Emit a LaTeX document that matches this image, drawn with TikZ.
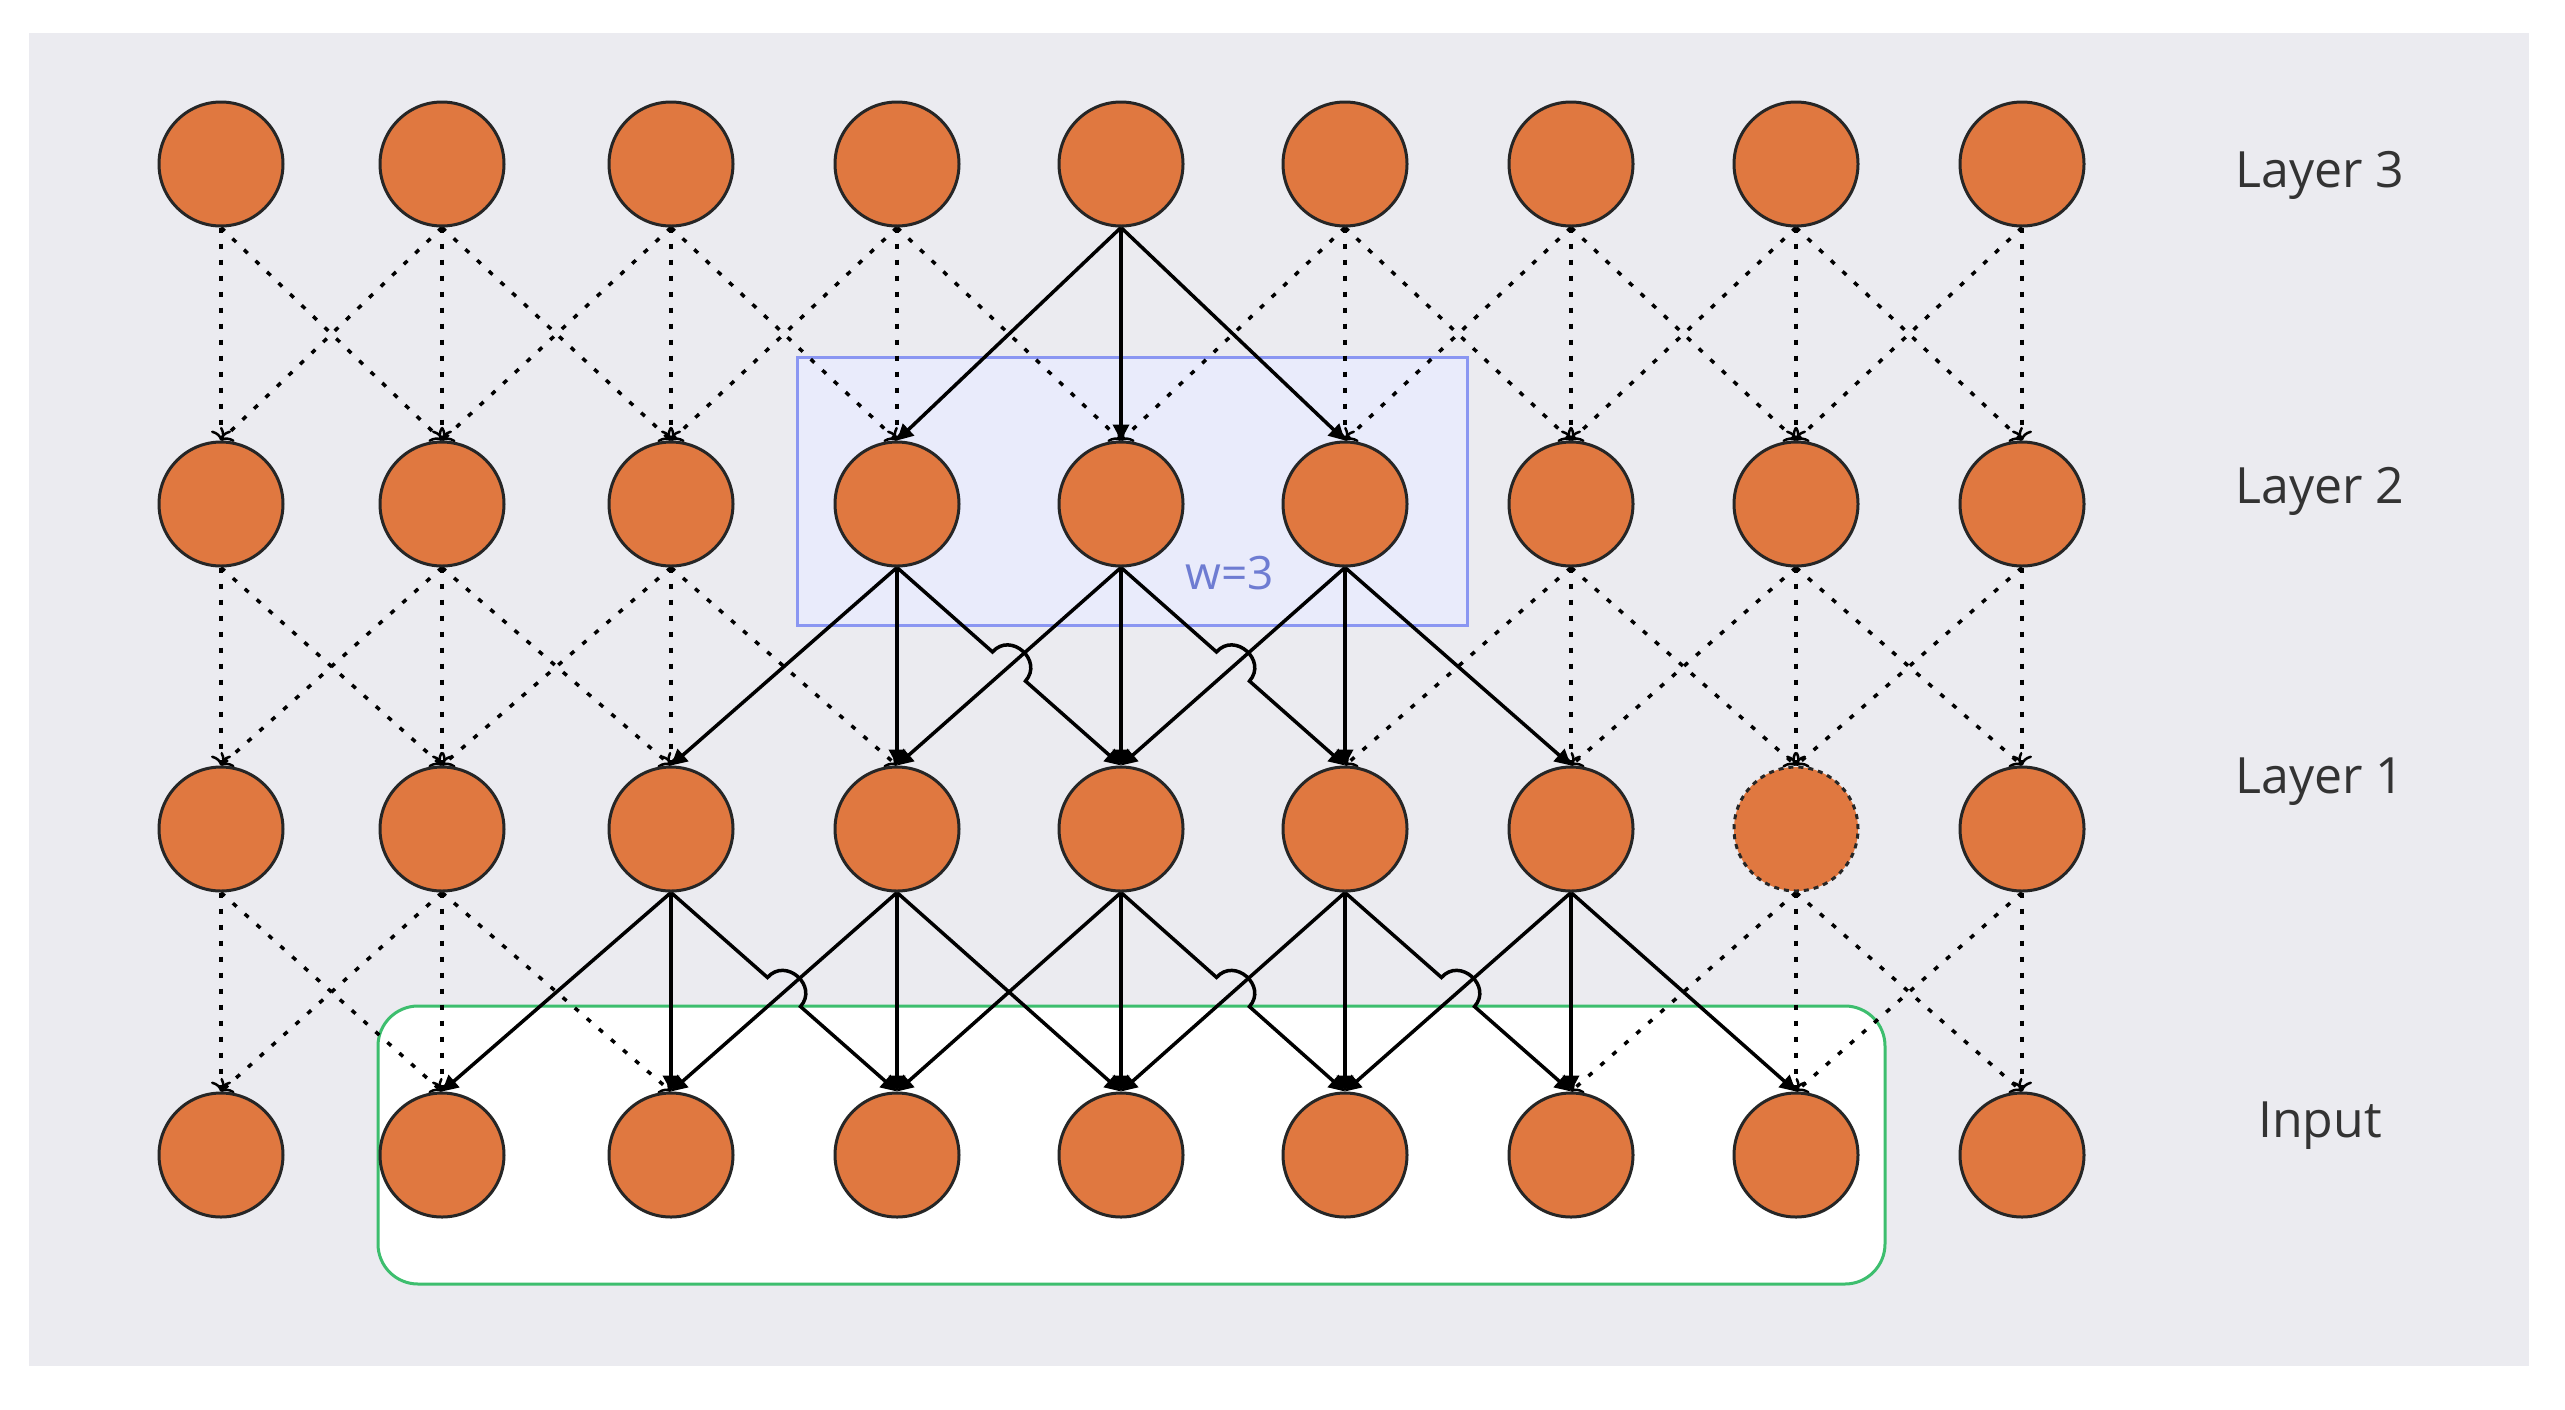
\documentclass[tikz,border=0pt]{standalone}
\usepackage{fontspec}
\setmainfont{Open Sans}
\usetikzlibrary{arrows.meta,calc}
\definecolor{orng}{HTML}{E07840}
\definecolor{bgc}{HTML}{EBEBF0}
\definecolor{bluef}{HTML}{E9EBFB}
\definecolor{blued}{HTML}{8A96F2}
\definecolor{bluet}{HTML}{6E7CD2}
\definecolor{grn}{HTML}{3DBE6E}
\definecolor{txt}{HTML}{333333}
\pgfdeclarelayer{bglayer}
\pgfdeclarelayer{edgelayer}
\pgfsetlayers{bglayer,edgelayer,main}
\begin{document}
\begin{tikzpicture}[x=1pt,y=-1pt,
  neuron/.style={circle,draw=black!85,line width=3pt,fill=orng,minimum size=124pt,inner sep=0pt},
  ghost/.style={neuron,dash pattern=on 5pt off 5pt},
  sol/.style={black,line width=3.5pt,-{Triangle[length=16pt,width=16pt]}},
  dsh/.style={black,line width=3.5pt,dash pattern=on 5pt off 11pt,-{To[length=10pt,width=20pt,line width=2.5pt]}},
  lbl/.style={font=\fontsize{50}{60}\selectfont,text=txt}]
\useasboundingbox (0,0) rectangle (2565,1409);
\begin{pgfonlayer}{bglayer}
\fill[white] (0,0) rectangle (2565,1409);
\fill[bgc] (29,33) rectangle (2529,1366);
\draw[blued,line width=3pt,fill=bluef] (797,357) rectangle (1467,625);
\draw[grn,line width=3pt,fill=white,rounded corners=40pt] (378,1006) rectangle (1885,1284);
\end{pgfonlayer}
\def\colx{{221,442,671,897,1121,1345,1571,1796,2022}}
\foreach \r/\y in {3/164,2/504,1/829,0/1155}{
  \foreach \c in {0,...,8}{
    \pgfmathsetmacro\xx{\colx[\c]}
    \ifnum\r=1 \ifnum\c=7
      \node[ghost] (n-\r-\c) at (\xx,\y) {};
    \else
      \node[neuron] (n-\r-\c) at (\xx,\y) {};
    \fi\else
      \node[neuron] (n-\r-\c) at (\xx,\y) {};
    \fi
  }
}
\begin{pgfonlayer}{edgelayer}
\foreach \r in {1,2,3}{
  \foreach \c in {0,...,8}{
    \foreach \dc in {-1,0,1}{
      \pgfmathtruncatemacro\cc{\c+\dc}
      \pgfmathtruncatemacro\rr{\r-1}
      \pgfmathtruncatemacro\solid{(\r==3 && \c==4) || (\r==2 && \c>2 && \c<6) || (\r==1 && \c>1 && \c<7)}
      \pgfmathtruncatemacro\hop{\dc==1 && ((\r==2 && (\c==3 || \c==4)) || (\r==1 && (\c==2 || \c==4 || \c==5)))}
      \ifnum\cc>-1 \ifnum\cc<9
        \ifnum\solid=1
          \ifnum\hop=1
            \coordinate (m) at ($(n-\r-\c.south)!0.5!(n-\rr-\cc.north)$);
            \draw[sol] (n-\r-\c.south) -- ($(m)!22pt!(n-\r-\c.south)$) to[bend left=90,looseness=1.6] ($(m)!22pt!(n-\rr-\cc.north)$) -- (n-\rr-\cc.north);
          \else
            \draw[sol] (n-\r-\c.south) -- (n-\rr-\cc.north);
          \fi
        \else
          \draw[dsh] (n-\r-\c.south) -- (n-\rr-\cc.north);
        \fi
      \fi\fi
    }
  }
}
\end{pgfonlayer}
\node[font=\fontsize{46}{56}\selectfont,text=bluet] (w) at (1230,573) {w=3};
\node[lbl] (l3) at (2320,175) {Layer 3};
\node[lbl] (l2) at (2320,491) {Layer 2};
\node[lbl] (l1) at (2320,782) {Layer 1};
\node[lbl] (l0) at (2320,1126) {Input};
\end{tikzpicture}
\end{document}
